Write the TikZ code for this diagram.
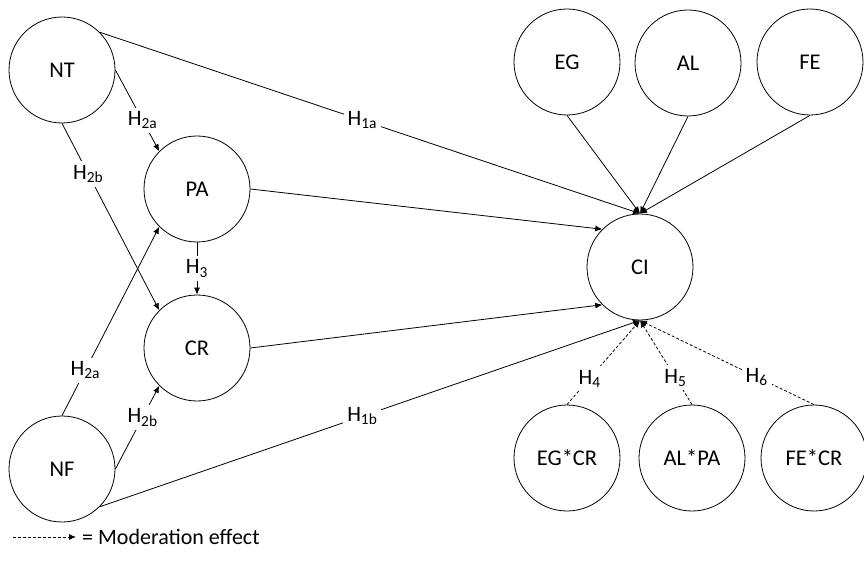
\documentclass[tikz,border=0pt]{standalone}
\usepackage{fontspec}
\setmainfont{Carlito}
\usetikzlibrary{arrows.meta}

\def\circSize{106pt}

\tikzset{
    latent/.style = {circle, draw, line width=0.8pt, minimum size=\circSize,
        inner sep=0pt, font=\fontsize{22.5}{27}\selectfont},
    effect/.style = {line width=0.8pt, -{Latex[length=7pt, width=6pt]}},
    moder/.style = {effect, dash pattern=on 3pt off 2pt},
    hyp/.style = {fill=white, inner sep=4pt, font=\fontsize{22}{26}\selectfont},
}

\begin{document}
\begin{tikzpicture}[x=1pt, y=-1pt]
            \useasboundingbox (0,0) rectangle (864,561);
            %% constructs
            \node [latent] (NT) at (62,70) {NT};
            \node [latent] (NF) at (62,469) {NF};
            \node [latent] (PA) at (197,189) {PA};
            \node [latent] (CR) at (197,348) {CR};
            \node [latent] (CI) at (640,267) {CI};
            \node [latent] (EG) at (567,62) {EG};
            \node [latent] (AL) at (688,63) {AL};
            \node [latent] (FE) at (810,62) {FE};
            \node [latent] (EGxCR) at (567,458) {EG*CR};
            \node [latent] (ALxPA) at (692,458) {AL*PA};
            \node [latent] (FExCR) at (814,458) {FE*CR};
            %% direct effects
            \draw [effect] (NT.east) -- node [hyp, pos=0.62] (h2aT) {H\textsubscript{2a}} (PA.north west);
            \draw [effect] (NT.south) -- node [hyp, pos=0.27] (h2bT) {H\textsubscript{2b}} (CR.north west);
            \draw [effect] (NF.north) -- node [hyp, pos=0.24] (h2aF) {H\textsubscript{2a}} (PA.south west);
            \draw [effect] (NF.east) -- node [hyp, pos=0.62] (h2bF) {H\textsubscript{2b}} (CR.south west);
            \draw [effect] (PA.south) -- node [hyp, pos=0.5] (h3) {H\textsubscript{3}} (CR.north);
            \draw [effect] (NT.north east) -- node [hyp, pos=0.486] (h1a) {H\textsubscript{1a}} (CI.north);
            \draw [effect] (NF.south east) -- node [hyp, pos=0.486] (h1b) {H\textsubscript{1b}} (CI.south);
            \draw [effect] (PA.east) -- (CI.north west);
            \draw [effect] (CR.east) -- (CI.south west);
            \draw [effect] (EG.south) -- (CI.north);
            \draw [effect] (AL.south) -- (CI.north);
            \draw [effect] (FE.south) -- (CI.north);
            %% moderation
            \draw [moder] (EGxCR.north) -- node [hyp, pos=0.31] (h4) {H\textsubscript{4}} (CI.south);
            \draw [moder] (ALxPA.north) -- node [hyp, pos=0.32] (h5) {H\textsubscript{5}} (CI.south);
            \draw [moder] (FExCR.north) -- node [hyp, pos=0.33] (h6) {H\textsubscript{6}} (CI.south);
            %% legend
            \coordinate (legA) at (13,537);
            \coordinate (legB) at (76,537);
            \node [anchor=west, inner sep=0pt, font=\fontsize{22}{26}\selectfont] (legend) at (82,537) {= Moderation effect};
            \draw [moder] (legA) -- (legB);
        \end{tikzpicture}
\end{document}
